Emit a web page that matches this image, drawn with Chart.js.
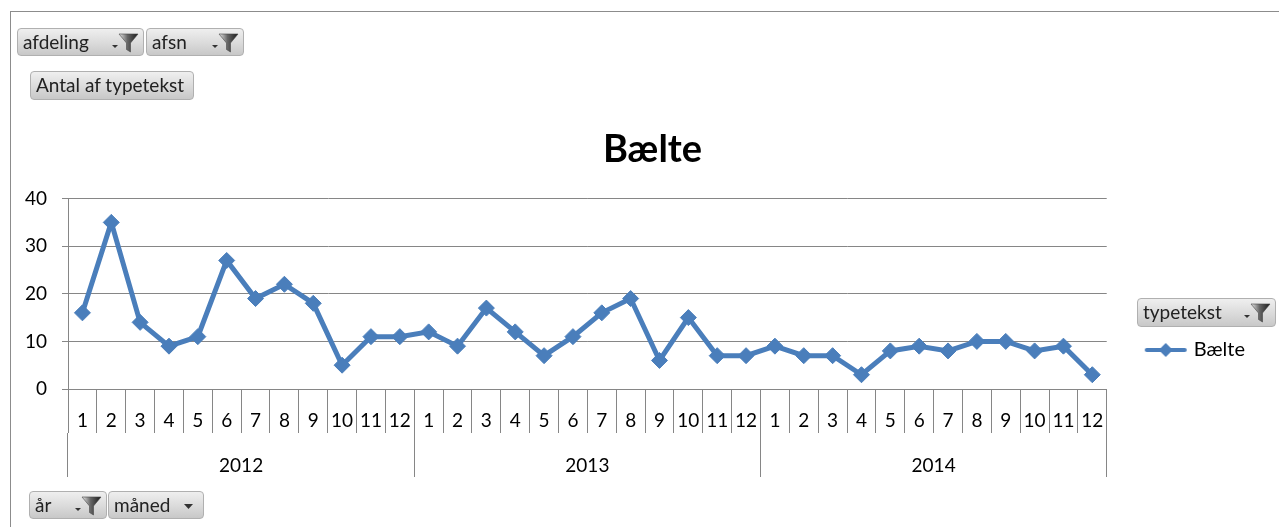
<!DOCTYPE html>
<html>
<head>
<meta charset="utf-8">
<title>Bælte</title>
<script src="https://cdn.jsdelivr.net/npm/chart.js@4.4.1/dist/chart.umd.min.js"></script>
<style>
    html, body { margin: 0; padding: 0; width: 1279px; height: 527px; overflow: hidden; background: #fff; }
    body { font-family: Lato, "Open Sans", sans-serif; position: relative; }
    #frame { position: absolute; left: 10px; top: 11px; width: 1300px; height: 540px; border-left: 1px solid #8c8c8c; border-top: 1px solid #8c8c8c; }
    #wrap { position: absolute; left: 13px; top: 0; width: 1279px; height: 527px; }
    .btn { position: absolute; height: 28px; box-sizing: border-box; border: 1px solid #b0b0b0; border-radius: 4px;
           background: linear-gradient(#efefef, #dadada 55%, #c8c8c8); font-size: 19px; color: #222;
           line-height: 26px; padding-left: 5px; white-space: nowrap; }
    .btn svg { position: absolute; right: 3px; top: 3px; }
</style>
</head>
<body>
<div id="frame"></div>
<div id="wrap"><canvas id="baelteChart" width="1279" height="527"></canvas></div>

<div class="btn" style="left:17px;top:28px;width:127px;">afdeling<svg width="32" height="22" viewBox="0 0 32 22"><path d="M4 13 h6 l-3 3 z" fill="#333"/><defs><linearGradient id="fg" x1="0" x2="1"><stop offset="0" stop-color="#e8e8e8"/><stop offset="0.45" stop-color="#666"/><stop offset="1" stop-color="#1a1a1a"/></linearGradient></defs><path d="M11 2 h19 l-7.5 9 v9 l-4 -2.5 v-6.5 z" fill="url(#fg)" stroke="#444" stroke-width="0.6"/></svg></div>
<div class="btn" style="left:146px;top:28px;width:98px;">afsn<svg width="32" height="22" viewBox="0 0 32 22"><path d="M4 13 h6 l-3 3 z" fill="#333"/><path d="M11 2 h19 l-7.5 9 v9 l-4 -2.5 v-6.5 z" fill="url(#fg)" stroke="#444" stroke-width="0.6"/></svg></div>
<div class="btn" style="left:30px;top:71px;width:164px;height:29px;">Antal af typetekst</div>
<div class="btn" style="left:1137px;top:298px;width:139px;height:29px;">typetekst<svg width="32" height="22" viewBox="0 0 32 22"><path d="M4 13 h6 l-3 3 z" fill="#333"/><path d="M11 2 h19 l-7.5 9 v9 l-4 -2.5 v-6.5 z" fill="url(#fg)" stroke="#444" stroke-width="0.6"/></svg></div>
<div class="btn" style="left:29px;top:491px;width:78px;">år<svg width="32" height="22" viewBox="0 0 32 22"><path d="M4 13 h6 l-3 3 z" fill="#333"/><path d="M11 2 h19 l-7.5 9 v9 l-4 -2.5 v-6.5 z" fill="url(#fg)" stroke="#444" stroke-width="0.6"/></svg></div>
<div class="btn" style="left:108px;top:491px;width:96px;">måned<svg width="20" height="22" viewBox="0 0 20 22"><path d="M4 9 h9 l-4.5 5 z" fill="#333"/></svg></div>

<script>
// Bælte - antal pr. måned 2012-2014

const years = ['2012', '2013', '2014'];
const monthLabels = ['1', '2', '3', '4', '5', '6', '7', '8', '9', '10', '11', '12'];

const baelte2012 = [16, 35, 14, 9, 11, 27, 19, 22, 18, 5, 11, 11];
const baelte2013 = [12, 9, 17, 12, 7, 11, 16, 19, 6, 15, 7, 7];
const baelte2014 = [9, 7, 7, 3, 8, 9, 8, 10, 10, 8, 9, 3];

const yTicks = [0, 10, 20, 30, 40];

const seriesName = 'Bælte';
const chartTitle = 'Bælte';

const lineBlue = '#4a7ebb';
const axisGrey = '#868686';
const axisFont = { family: 'Lato', size: 19 };

// one month label per point, repeated for every year
const categories = years.flatMap(() => monthLabels);
const values = [...baelte2012, ...baelte2013, ...baelte2014];

// legend symbol: line with a diamond in the middle, like Excel
function legendMarker() {
    const c = document.createElement('canvas');
    c.width = 44;
    c.height = 16;
    const g = c.getContext('2d');
    g.strokeStyle = lineBlue;
    g.lineWidth = 4;
    g.lineCap = 'round';
    g.beginPath();
    g.moveTo(3, 8);
    g.lineTo(41, 8);
    g.stroke();
    g.fillStyle = lineBlue;
    g.beginPath();
    g.moveTo(22, 1);
    g.lineTo(29, 8);
    g.lineTo(22, 15);
    g.lineTo(15, 8);
    g.closePath();
    g.fill();
    return c;
}

// Excel centres the title over the whole chart object, not between the paddings
const centreTitle = {
    id: 'centreTitle',
    afterLayout(chart) {
        const t = chart.titleBlock;
        if (!t) return;
        t.left = 0;
        t.right = chart.width;
    }
};

const ctx = document.getElementById('baelteChart');

new Chart(ctx, {
    type: 'line',
    data: {
        labels: categories,
        datasets: [{
            label: seriesName,
            data: values,
            borderColor: lineBlue,
            backgroundColor: lineBlue,
            borderWidth: 5,
            pointStyle: 'rectRot',
            pointRadius: 8,
            pointBorderWidth: 1,
            pointBackgroundColor: lineBlue,
            pointBorderColor: lineBlue,
            tension: 0
        }]
    },
    plugins: [centreTitle],
    options: {
        responsive: false,
        animation: false,
        layout: {
            padding: { left: 12, right: 37, top: 0, bottom: 50 }
        },
        plugins: {
            title: {
                display: true,
                text: chartTitle,
                color: '#000',
                font: { family: 'Lato', size: 38, weight: 'bold' },
                padding: { top: 127, bottom: 26 }
            },
            legend: {
                display: true,
                position: 'right',
                align: 'start',
                fullSize: false,
                title: {
                    display: true,
                    text: '',
                    font: { size: 12 },
                    padding: { top: 86, bottom: 0 }
                },
                labels: {
                    usePointStyle: true,
                    pointStyle: legendMarker(),
                    pointStyleWidth: 36,
                    padding: 41,
                    color: '#000',
                    font: { family: 'Lato', size: 20 }
                }
            },
            tooltip: { enabled: false }
        },
        scales: {
            y: {
                min: yTicks[0],
                max: yTicks[yTicks.length - 1],
                afterBuildTicks: function(scale) {
                    scale.ticks = yTicks.map(v => ({ value: v }));
                },
                afterFit: function(scale) {
                    scale.width = 43;
                },
                ticks: {
                    color: '#000',
                    font: axisFont,
                    padding: 15
                },
                grid: {
                    color: axisGrey,
                    lineWidth: 1,
                    tickLength: 6
                },
                border: { color: axisGrey, width: 1 }
            },
            x: {
                type: 'category',
                offset: true,
                weight: 0,
                afterFit: function(scale) {
                    scale.height = 44;
                },
                ticks: {
                    color: '#000',
                    font: axisFont,
                    autoSkip: false,
                    maxRotation: 0,
                    padding: -24
                },
                grid: {
                    offset: true,
                    drawOnChartArea: false,
                    color: axisGrey,
                    tickLength: 44
                },
                border: { color: axisGrey, width: 1 }
            },
            years: {
                type: 'category',
                labels: years,
                position: 'bottom',
                offset: true,
                weight: 1,
                afterFit: function(scale) {
                    scale.height = 44;
                },
                ticks: {
                    color: '#000',
                    font: axisFont,
                    autoSkip: false,
                    maxRotation: 0,
                    padding: -23
                },
                grid: {
                    offset: true,
                    drawOnChartArea: false,
                    color: axisGrey,
                    tickLength: 44
                },
                border: { display: false }
            }
        }
    }
});
</script>
</body>
</html>
